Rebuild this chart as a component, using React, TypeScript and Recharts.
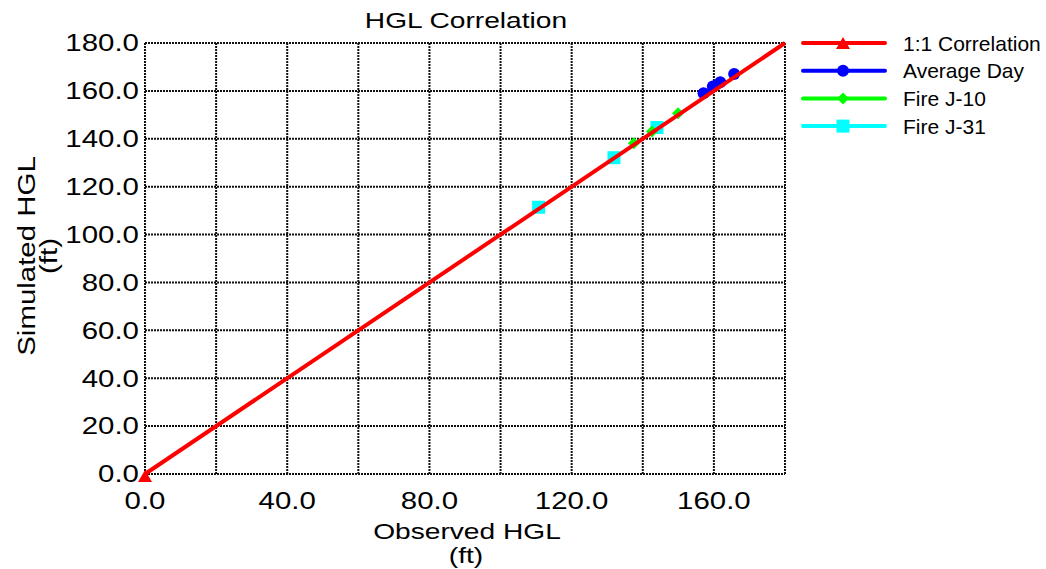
import React from 'react';
import { CartesianGrid, Scatter, ScatterChart, XAxis, YAxis } from 'recharts';

// series values (observed, simulated) in ft
const correlationLine = [
  { x: 0, y: 0 },
  { x: 180, y: 180 },
];
const averageDay = [
  { x: 157.1, y: 159.0 },
  { x: 159.7, y: 161.8 },
  { x: 161.8, y: 163.6 },
  { x: 165.7, y: 167.1 },
];
const fireJ10 = [
  { x: 137.5, y: 138.1 },
  { x: 142.6, y: 143.0 },
  { x: 149.9, y: 150.7 },
];
const fireJ31 = [
  { x: 110.7, y: 111.4 },
  { x: 131.9, y: 132.1 },
  { x: 144.0, y: 144.7 },
];

const xTicks = [0, 20, 40, 60, 80, 100, 120, 140, 160, 180];
const xTickLabels = ['0.0', '', '40.0', '', '80.0', '', '120.0', '', '160.0', ''];
const yTicks = [0, 20, 40, 60, 80, 100, 120, 140, 160, 180];
const yTickLabels = ['0.0', '20.0', '40.0', '60.0', '80.0', '100.0', '120.0', '140.0', '160.0', '180.0'];

type Marker = 'triangle' | 'circle' | 'diamond' | 'square';

const series: { name: string; color: string; marker: Marker }[] = [
  { name: '1:1 Correlation', color: '#ff0000', marker: 'triangle' },
  { name: 'Average Day', color: '#0000ff', marker: 'circle' },
  { name: 'Fire J-10', color: '#00ff00', marker: 'diamond' },
  { name: 'Fire J-31', color: '#00ffff', marker: 'square' },
];

const FONT = 'Arial, "Liberation Sans", Helvetica, sans-serif';
const STRETCH = 1.28;

function drawMarker(kind: Marker, cx: number, cy: number, color: string) {
  switch (kind) {
    case 'circle':
      return <circle cx={cx} cy={cy} r={6} fill={color} />;
    case 'diamond':
      return (
        <polygon
          points={`${cx},${cy - 6} ${cx + 6},${cy} ${cx},${cy + 6} ${cx - 6},${cy}`}
          fill={color}
        />
      );
    case 'square':
      return <rect x={cx - 6.5} y={cy - 6.5} width={13} height={13} fill={color} />;
    case 'triangle':
      return (
        <polygon
          points={`${cx},${cy - 6} ${cx + 7},${cy + 6} ${cx - 7},${cy + 6}`}
          fill={color}
        />
      );
  }
}

const XTick = (props: any) => {
  const { x, y, payload } = props;
  const label = xTickLabels[xTicks.indexOf(payload.value)];
  if (!label) return <g />;
  return (
    <g transform={`translate(${x},${y})`}>
      <text
        transform={`scale(${STRETCH},1)`}
        y={27}
        textAnchor="middle"
        fontSize={23}
        fontFamily={FONT}
        fill="#000"
      >
        {label}
      </text>
    </g>
  );
};

const YTick = (props: any) => {
  const { x, y, payload } = props;
  const label = yTickLabels[yTicks.indexOf(payload.value)];
  return (
    <g transform={`translate(${x + 2},${y})`}>
      <text
        transform={`scale(${STRETCH},1)`}
        dy="0.36em"
        textAnchor="end"
        fontSize={23}
        fontFamily={FONT}
        fill="#000"
      >
        {label}
      </text>
    </g>
  );
};

const seriesData = [correlationLine, averageDay, fireJ10, fireJ31];

export default function App() {
  // draw the markers first, the 1:1 line last so it sits on top
  const drawOrder = [3, 2, 1, 0];

  return (
    <div style={{ position: 'absolute', left: 0, top: 0, width: 1046, height: 569, background: '#fff' }}>
      <ScatterChart
        width={1046}
        height={569}
        margin={{ top: 43, right: 261, bottom: 45, left: 65 }}
      >
        <CartesianGrid stroke="#111" strokeWidth={2} strokeDasharray="2 1" />
        <XAxis
          type="number"
          dataKey="x"
          domain={[0, 180]}
          ticks={xTicks}
          height={50}
          axisLine={false}
          tickLine={false}
          tick={<XTick />}
          interval={0}
        />
        <YAxis
          type="number"
          dataKey="y"
          domain={[0, 180]}
          ticks={yTicks}
          width={80}
          axisLine={false}
          tickLine={false}
          tick={<YTick />}
          interval={0}
        />
        {drawOrder.map((i) => {
          const s = series[i];
          const isLine = s.marker === 'triangle';
          return (
            <Scatter
              key={s.name}
              name={s.name}
              data={seriesData[i]}
              fill={s.color}
              isAnimationActive={false}
              line={isLine ? { stroke: s.color, strokeWidth: 4 } : false}
              shape={(p: any) => {
                if (isLine && p.payload && p.payload.x !== correlationLine[0].x) return <g />;
                return drawMarker(s.marker, p.cx, isLine ? p.cy + 2 : p.cy, s.color);
              }}
            />
          );
        })}
      </ScatterChart>

      <svg
        width={1046}
        height={569}
        style={{ position: 'absolute', left: 0, top: 0, pointerEvents: 'none' }}
        fontFamily={FONT}
      >
        <text
          transform={`translate(466,28) scale(${STRETCH},1)`}
          textAnchor="middle"
          fontSize={22}
        >
          HGL Correlation
        </text>
        <text
          transform={`translate(467,539) scale(${STRETCH},1)`}
          textAnchor="middle"
          fontSize={22}
        >
          Observed HGL
        </text>
        <text
          transform={`translate(466,563) scale(${STRETCH},1)`}
          textAnchor="middle"
          fontSize={22}
        >
          (ft)
        </text>
        <text
          transform={`translate(35,256) rotate(-90) scale(${STRETCH},1)`}
          textAnchor="middle"
          fontSize={23}
        >
          Simulated HGL
        </text>
        <text
          transform={`translate(57,256) rotate(-90) scale(${STRETCH},1)`}
          textAnchor="middle"
          fontSize={23}
        >
          (ft)
        </text>

        {series.map((s, i) => {
          const cy = 43 + i * 27.7;
          return (
            <g key={s.name}>
              <line x1={803} x2={885} y1={cy} y2={cy} stroke={s.color} strokeWidth={4} strokeLinecap="round" />
              {drawMarker(s.marker, 843, cy, s.color)}
              <text x={903} y={cy} dy="0.36em" fontSize={21}>
                {s.name}
              </text>
            </g>
          );
        })}
      </svg>
    </div>
  );
}
